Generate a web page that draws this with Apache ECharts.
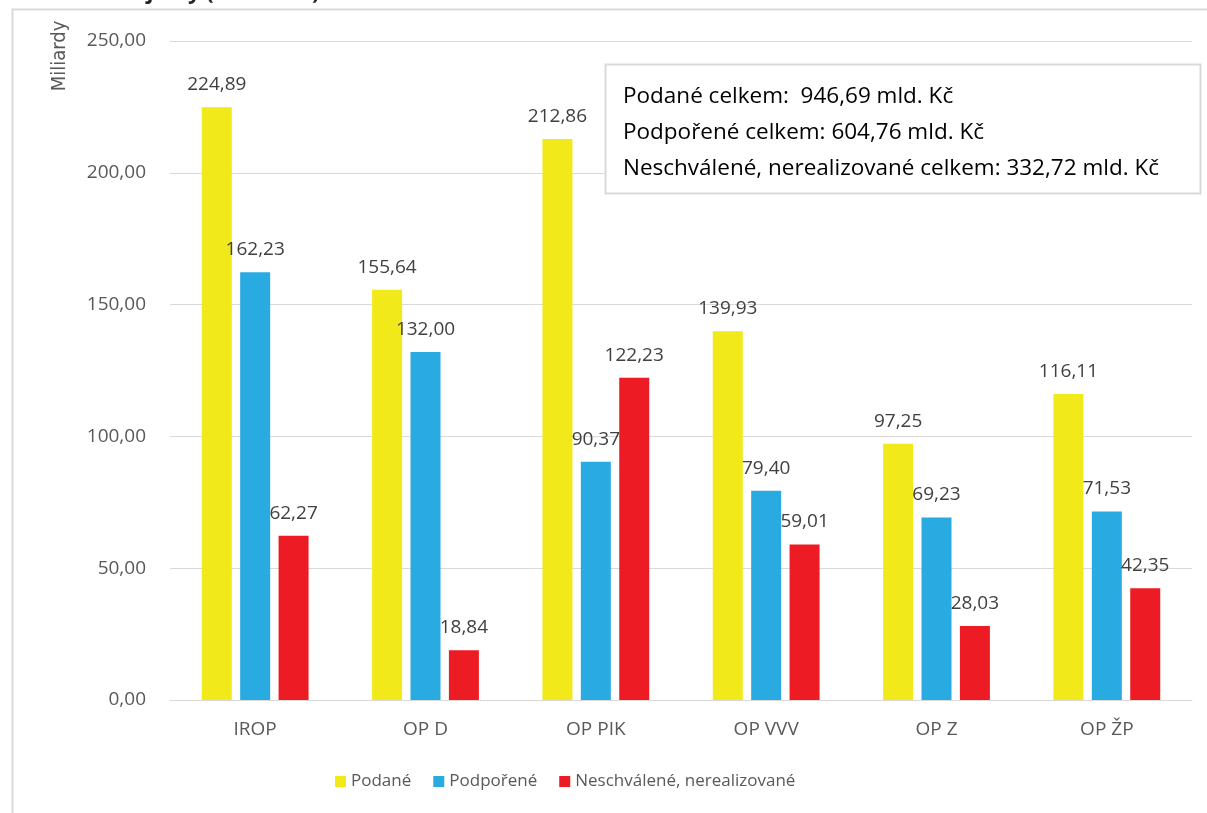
<!DOCTYPE html>
<html>
<head>
<meta charset="utf-8">
<script src="https://cdn.jsdelivr.net/npm/echarts@6/dist/echarts.min.js"></script>
<style>
  html, body { margin: 0; padding: 0; background: #fff; }
  #chart { width: 1207px; height: 813px; }
</style>
</head>
<body>
<div id="chart"></div>
<script>
// data
const categories = ['IROP', 'OP D', 'OP PIK', 'OP VVV', 'OP Z', 'OP ŽP'];
const podane = [224.89, 155.64, 212.86, 139.93, 97.25, 116.11];
const podporene = [162.23, 132.00, 90.37, 79.40, 69.23, 71.53];
const neschvalene = [62.27, 18.84, 122.23, 59.01, 28.03, 42.35];
const seriesNames = ['Podané', 'Podpořené', 'Neschválené, nerealizované'];
const totalsLines = [
  'Podané celkem:  946,69 mld. Kč',
  'Podpořené celkem: 604,76 mld. Kč',
  'Neschválené, nerealizované celkem: 332,72 mld. Kč'
];
const titleText = 'Finanční objemy (v mld. Kč)';
const yAxisName = 'Miliardy';

const FONT = '"Open Sans", "Noto Sans", sans-serif';
const NARROW = '"Liberation Sans Narrow", "DejaVu Sans Condensed", "Open Sans", sans-serif';
const colors = ['#F1E919', '#29ABE2', '#ED1C24'];

const fmt = v => v.toFixed(2).replace('.', ',');

function barSeries(name, data, color) {
  return {
    name: name,
    type: 'bar',
    data: data,
    barWidth: 30,
    barGap: '28%',
    itemStyle: { color: color },
    label: {
      show: true,
      position: 'top',
      distance: 13,
      color: '#404040',
      fontFamily: FONT,
      fontSize: 19,
      formatter: p => fmt(p.value)
    }
  };
}

const chart = echarts.init(document.getElementById('chart'));
const option = {
  animation: false,
  textStyle: { fontFamily: FONT },
  grid: { left: 170, right: 15, top: 41, bottom: 113, containLabel: false },
  legend: {
    bottom: 18,
    left: 330,
    itemWidth: 11,
    itemHeight: 11,
    itemGap: 22,
    icon: 'rect',
    textStyle: { color: '#595959', fontSize: 17, fontFamily: FONT },
    data: seriesNames
  },
  xAxis: {
    type: 'category',
    data: categories,
    axisTick: { show: false },
    axisLine: { lineStyle: { color: '#d9d9d9' } },
    axisLabel: { color: '#595959', fontSize: 19, margin: 20, fontFamily: FONT }
  },
  yAxis: {
    type: 'value',
    min: 0,
    max: 250,
    interval: 50,
    axisLine: { show: false },
    axisTick: { show: false },
    splitLine: { lineStyle: { color: '#d9d9d9', width: 1 } },
    axisLabel: { color: '#595959', fontSize: 19, margin: 24, formatter: v => fmt(v), fontFamily: FONT }
  },
  series: [
    barSeries(seriesNames[0], podane, colors[0]),
    barSeries(seriesNames[1], podporene, colors[1]),
    barSeries(seriesNames[2], neschvalene, colors[2])
  ],
  graphic: [
    {
      type: 'rect',
      silent: true,
      shape: { x: 12.5, y: 9.5, width: 1300, height: 900 },
      style: { fill: 'none', stroke: '#d9d9d9', lineWidth: 2 }
    },
    {
      type: 'text',
      left: 20,
      top: -18,
      style: { text: titleText, font: 'bold 22px ' + FONT, fill: '#262626' }
    },
    {
      type: 'text',
      x: 60,
      y: 56,
      rotation: Math.PI / 2,
      style: { text: yAxisName, font: '20px ' + NARROW, fill: '#595959', align: 'center', verticalAlign: 'middle' }
    },
    {
      type: 'rect',
      silent: true,
      shape: { x: 605.5, y: 64.5, width: 595, height: 129 },
      style: { fill: '#fff', stroke: '#d9d9d9', lineWidth: 2 },
      z: 100
    }
  ].concat(totalsLines.map((t, i) => ({
    type: 'text',
    z: 101,
    x: 623,
    y: 97 + i * 36,
    style: { text: t, font: '22.5px ' + FONT, fill: '#000', verticalAlign: 'middle' }
  })))
};
chart.setOption(option);
</script>
</body>
</html>
